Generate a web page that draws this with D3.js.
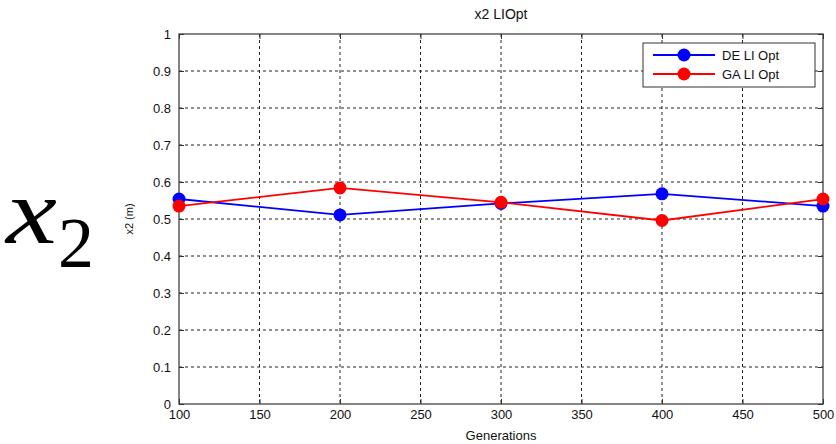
<!DOCTYPE html>
<html>
<head>
<meta charset="utf-8">
<script src="https://cdn.jsdelivr.net/npm/d3@7"></script>
<style>
body { margin: 0; background: #fff; }
svg text { font-family: Arial, "Liberation Sans", sans-serif; }
</style>
</head>
<body>
<svg id="chart" width="836" height="444"></svg>
<script>
// data
var generations = [100, 200, 300, 400, 500];
var deValues = [0.554, 0.511, 0.542, 0.568, 0.535];
var gaValues = [0.535, 0.584, 0.545, 0.496, 0.554];
var xTicks = [100, 150, 200, 250, 300, 350, 400, 450, 500];
var yTicks = [0, 0.1, 0.2, 0.3, 0.4, 0.5, 0.6, 0.7, 0.8, 0.9, 1];
var seriesNames = ["DE LI Opt", "GA LI Opt"];
var seriesColors = ["#0000ff", "#ff0000"];

var svg = d3.select("#chart");
var pLeft = 179, pRight = 823, pTop = 34, pBottom = 404;

var x = d3.scaleLinear().domain([100, 500]).range([pLeft, pRight]);
var y = d3.scaleLinear().domain([0, 1]).range([pBottom, pTop]);

// big label on the left
svg.append("text")
	.attr("transform", "translate(6,243) scale(1.22,1)")
	.style("font-family", "'Liberation Serif', 'Times New Roman', serif")
	.style("font-style", "italic").style("font-size", "94px")
	.attr("fill", "#000")
	.text("x");
svg.append("text")
	.attr("x", 58).attr("y", 267)
	.style("font-family", "'Liberation Serif', 'Times New Roman', serif")
	.style("font-size", "72px")
	.attr("fill", "#000")
	.text("2");

// grid
var grid = svg.append("g");
grid.selectAll(".gx")
	.data(xTicks.slice(1, -1))
	.enter().append("line")
	.attr("x1", function(d) { return x(d); })
	.attr("x2", function(d) { return x(d); })
	.attr("y1", pTop).attr("y2", pBottom)
	.attr("stroke", "#222").attr("stroke-width", 1)
	.attr("stroke-dasharray", "3,3");
grid.selectAll(".gy")
	.data(yTicks.slice(1, -1))
	.enter().append("line")
	.attr("y1", function(d) { return y(d); })
	.attr("y2", function(d) { return y(d); })
	.attr("x1", pLeft).attr("x2", pRight)
	.attr("stroke", "#222").attr("stroke-width", 1)
	.attr("stroke-dasharray", "3,3");

// axes
var xAxis = d3.axisBottom(x).tickValues(xTicks).tickSize(-5).tickPadding(8).tickFormat(d3.format("d"));
var yAxis = d3.axisLeft(y).tickValues(yTicks).tickSize(-5).tickPadding(8).tickFormat(function(d) { return d3.format("")(d); });

var gx = svg.append("g").attr("transform", "translate(0," + pBottom + ")").call(xAxis);
var gy = svg.append("g").attr("transform", "translate(" + pLeft + ",0)").call(yAxis);
[gx, gy].forEach(function(g) {
	g.select(".domain").remove();
	g.selectAll("line").attr("stroke", "#333");
	g.selectAll("text").style("font-size", "13px").attr("fill", "#111");
});
gx.selectAll("text").attr("dy", "0.55em");

// top/right ticks
svg.append("g").attr("transform", "translate(0," + pTop + ")")
	.call(d3.axisTop(x).tickValues(xTicks).tickSize(-5).tickFormat(""))
	.call(function(g) { g.select(".domain").remove(); g.selectAll("line").attr("stroke", "#333"); });
svg.append("g").attr("transform", "translate(" + pRight + ",0)")
	.call(d3.axisRight(y).tickValues(yTicks).tickSize(-5).tickFormat(""))
	.call(function(g) { g.select(".domain").remove(); g.selectAll("line").attr("stroke", "#333"); });

// box
svg.append("rect")
	.attr("x", pLeft).attr("y", pTop)
	.attr("width", pRight - pLeft).attr("height", pBottom - pTop)
	.attr("fill", "none").attr("stroke", "#333").attr("stroke-width", 1.2);

// series
var line = d3.line()
	.x(function(d) { return x(d[0]); })
	.y(function(d) { return y(d[1]); });

[deValues, gaValues].forEach(function(vals, i) {
	var pts = generations.map(function(g, j) { return [g, vals[j]]; });
	svg.append("path")
		.datum(pts)
		.attr("d", line)
		.attr("fill", "none")
		.attr("stroke", seriesColors[i])
		.attr("stroke-width", 1.8);
	svg.selectAll(".m" + i)
		.data(pts)
		.enter().append("circle")
		.attr("cx", function(d) { return x(d[0]); })
		.attr("cy", function(d) { return y(d[1]); })
		.attr("r", 6.5)
		.attr("fill", seriesColors[i]);
});

// title and labels
svg.append("text")
	.attr("x", (pLeft + pRight) / 2).attr("y", 19)
	.attr("text-anchor", "middle")
	.style("font-size", "14px").attr("fill", "#111")
	.text("x2 LIOpt");
svg.append("text")
	.attr("x", (pLeft + pRight) / 2).attr("y", 440)
	.attr("text-anchor", "middle")
	.style("font-size", "13px").attr("fill", "#111")
	.text("Generations");
svg.append("text")
	.attr("transform", "translate(133," + ((pTop + pBottom) / 2) + ") rotate(-90)")
	.attr("text-anchor", "middle")
	.style("font-size", "11px").attr("fill", "#111")
	.text("x2 (m)");

// legend
var legend = svg.append("g").attr("transform", "translate(643,43)");
legend.append("rect")
	.attr("width", 172).attr("height", 44)
	.attr("fill", "#fff").attr("stroke", "#333").attr("stroke-width", 1);
seriesNames.forEach(function(name, i) {
	var ly = 12 + i * 19;
	legend.append("line")
		.attr("x1", 10).attr("x2", 72)
		.attr("y1", ly).attr("y2", ly)
		.attr("stroke", seriesColors[i]).attr("stroke-width", 1.8);
	legend.append("circle")
		.attr("cx", 41).attr("cy", ly).attr("r", 6.5)
		.attr("fill", seriesColors[i]);
	legend.append("text")
		.attr("x", 79).attr("y", ly + 5)
		.style("font-size", "13px").attr("fill", "#111")
		.text(name);
});
</script>
</body>
</html>
